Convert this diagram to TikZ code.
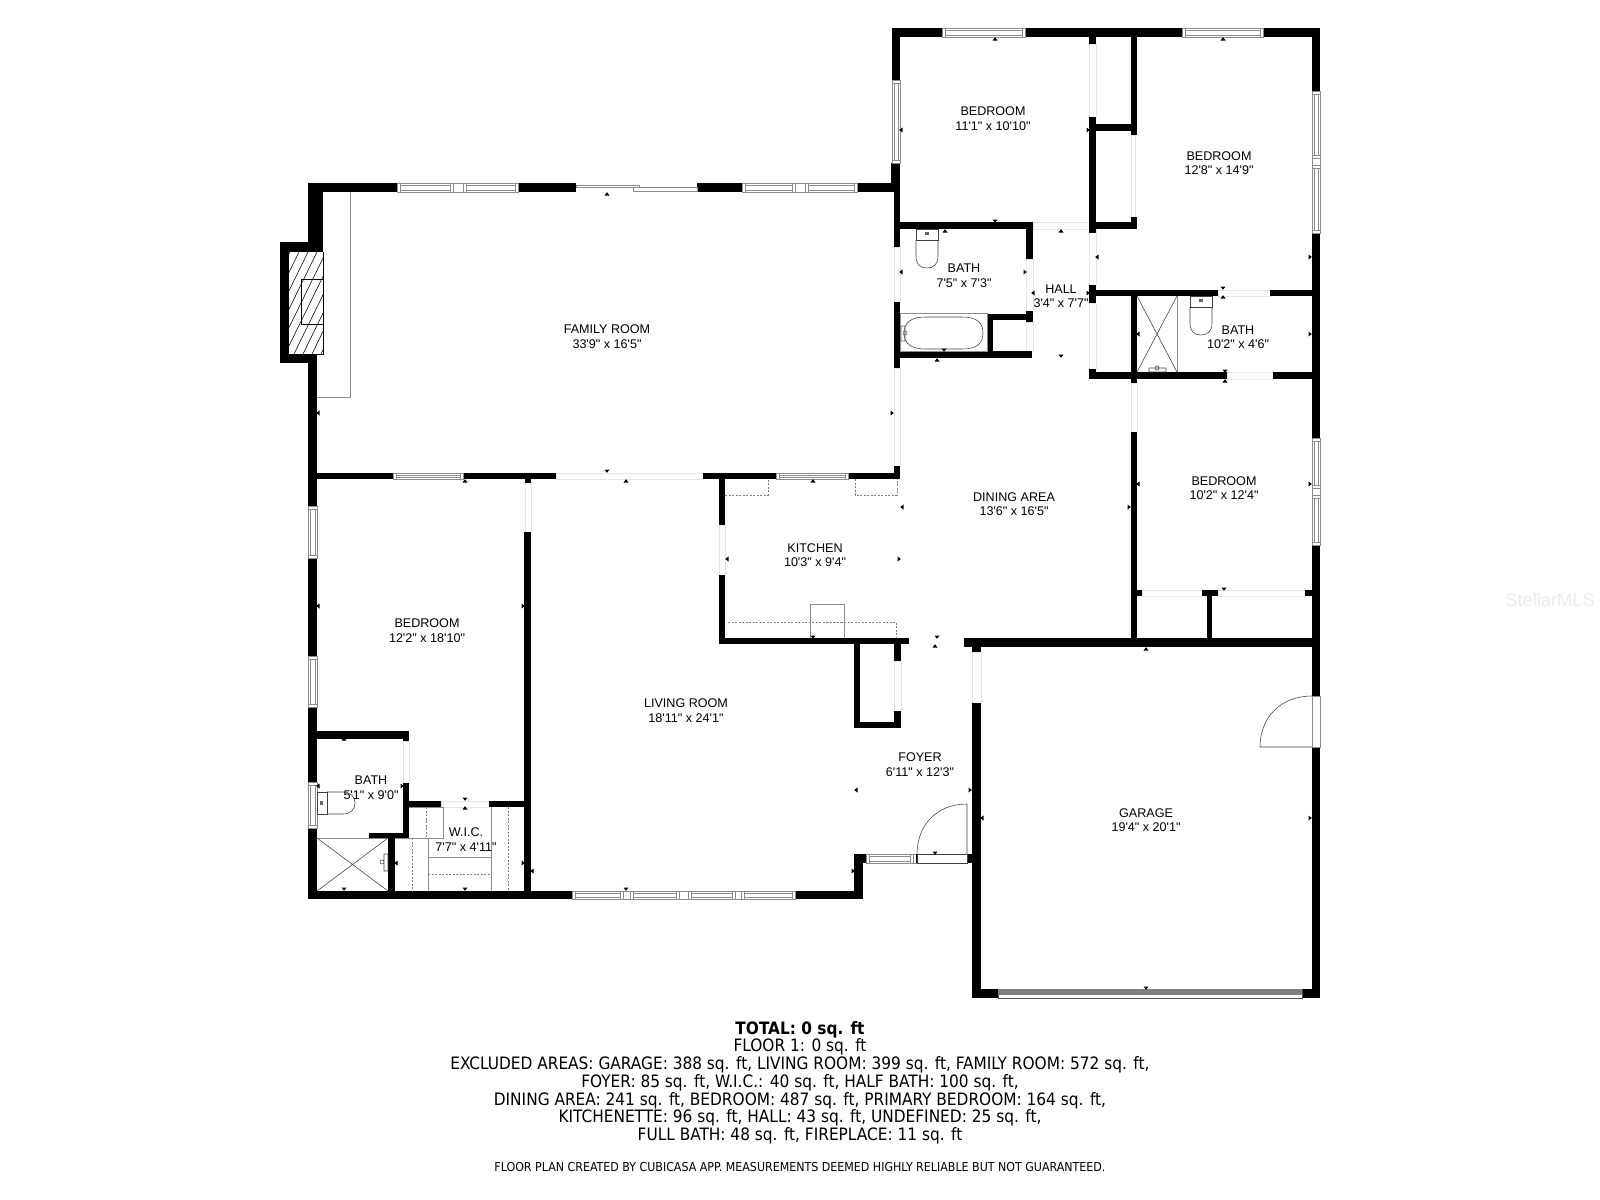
\documentclass[tikz,border=0pt]{standalone}
\usepackage{fontspec}
\usepackage{tikz}
\usetikzlibrary{positioning}
\newfontfamily\labelfont{Liberation Sans}
\newfontfamily\notefont{DejaVu Sans Condensed}
\tikzset{
wallfill/.style={fill=black},
gapbox/.style={draw=black!10,fill=white,line width=0.7pt}, % openings between rooms
winbox/.style={draw=black!45,fill=white,line width=0.9pt},
thinline/.style={draw=black!75,line width=0.8pt},
fixture/.style={draw=black!45,line width=1pt},
dashline/.style={draw=black!50,line width=0.8pt,densely dashed},
roomlabel/.style={align=center,font=\labelfont\fontsize{17.9}{20.6}\selectfont,inner sep=0pt},
noteline/.style={font=\notefont\fontsize{24.3}{27}\selectfont,inner sep=0pt},
}
\newcommand{\hwin}[4]{
  \draw[winbox] (#1,#3) rectangle (#2,#4);
  \draw[black!45,line width=0.7pt] (#1+3,#3) -- (#1+3,#4) (#2-3,#3) -- (#2-3,#4)
    (#1+3,#3+0.3*#4-0.3*#3) -- (#2-3,#3+0.3*#4-0.3*#3)
    (#1+3,#3+0.75*#4-0.75*#3) -- (#2-3,#3+0.75*#4-0.75*#3);
}
\newcommand{\vwin}[4]{
  \draw[winbox] (#1,#3) rectangle (#2,#4);
  \draw[black!45,line width=0.7pt] (#1,#3+3) -- (#2,#3+3) (#1,#4-3) -- (#2,#4-3)
    (#1+0.3*#2-0.3*#1,#3+3) -- (#1+0.3*#2-0.3*#1,#4-3)
    (#1+0.75*#2-0.75*#1,#3+3) -- (#1+0.75*#2-0.75*#1,#4-3);
}
\begin{document}
\begin{tikzpicture}[x=0.05cm,y=-0.05cm,on grid,node distance=0.885cm]
   \useasboundingbox (0,0) rectangle (1600,1200);
   \fill[white] (0,0) rectangle (1600,1200);

   % openings
   \foreach \xa/\ya/\xb/\yb in {1089/44/1096/117,1131/135/1135/217,1033/222/1089/229,1089/229/1096/285,
      1089/303/1096/369,1026/259/1033/311,1026/322/1033/351,894/247/900/302,894/368/900/466,
      1218/290/1270/296,1227/372/1273/379,1131/383/1137/432,1142/590/1202/596,1218/590/1305/596,
      556/473/703/479,525/483/531/532,719/525/725/575,894/661/901/711,972/652/981/703,
      403/741/409/783,441/801/489/807}
      \draw[gapbox] (\xa,\ya) rectangle (\xb,\yb);

   % walls
   \foreach \xa/\ya/\xb/\yb in {892/28/942/37,1025/28/1182/37,1263/28/1320/37,892/28/900/80,891/163/900/192,
      894/192/900/247,894/302/900/368,308/183/397/192,519/183/576/192,697/183/742/192,857/183/900/192,
      900/222/1033/229,1026/222/1033/259,1026/311/1033/322,987/314/1033/320,987/314/993/356,894/351/1032/358,
      1089/37/1096/44,1089/117/1096/233,1096/124/1131/131,1096/222/1137/229,1131/37/1137/135,1131/217/1137/229,
      1312/28/1320/91,1312/233/1320/438,1312/545/1320/696,1312/747/1320/998,
      1089/290/1218/296,1089/285/1096/303,1270/290/1312/296,1131/296/1137/383,1089/372/1227/379,1089/369/1096/379,
      1273/372/1312/379,1131/432/1137/638,1137/590/1142/596,1202/590/1218/596,1207/596/1212/638,1305/590/1312/596,
      964/638/1320/647,972/647/981/652,972/703/981/998,972/989/998/998,1302/989/1320/998,
      703/473/776/479,848/473/900/479,894/466/900/479,719/479/725/525,719/575/725/644,719/638/909/644,
      854/644/860/728,854/722/901/728,894/644/901/661,894/711/901/728,
      308/183/323/252,280/242/323/252,280/242/289/363,280/354/317/363,308/354/317/506,308/558/317/656,
      308/707/317/782,308/828/317/899,317/473/393/479,463/473/556/479,525/479/531/483,524/532/531/899,
      317/731/409/739,403/731/409/741,403/783/409/838,409/801/441/807,489/801/531/807,369/833/409/838,
      388/838/395/891,308/891/572/899,795/891/863/899,854/854/863/899,854/854/866/863,967/854/981/863}
      \fill[wallfill] (\xa,\ya) rectangle (\xb,\yb);

   % window frames, then the panes
   \foreach \xa/\ya/\xb/\yb in {397/183/518/192,742/183/857/192,572/891/795/899,1312/91/1320/233,1312/438/1320/545,866/854/917/863}
      \draw[winbox] (\xa,\ya) rectangle (\xb,\yb);
   \foreach \xa/\xb/\ya/\yb in {942/1025/28/37,1182/1263/28/37,397/453/183/192,463/518/183/192,742/795/183/192,
      805/857/183/192,393/463/473/479,776/848/473/479,572/623/891/899,630/679/891/899,688/735/891/899,
      741/795/891/899,866/913/854/863}
      {\hwin{\xa}{\xb}{\ya}{\yb}}
   \foreach \xa/\xb/\ya/\yb in {892/900/80/163,1312/1320/91/158,1312/1320/165/233,1312/1320/438/488,
      1312/1320/495/545,308/317/506/558,308/317/656/707,308/317/782/828}
      {\vwin{\xa}{\xb}{\ya}{\yb}}

   % sliding door and garage door
   \draw[winbox] (576,185) rectangle (639,187);
   \draw[winbox] (633,187) rectangle (697,191);
   \draw[winbox] (1312,696) rectangle (1320,747);
   \draw[black!70,fill=white,line width=0.8pt] (998,989) rectangle (1302,998);
   \fill[black!50] (998,989) rectangle (1302,995);

   % doors
   \draw[thinline] (1312,696) .. controls (1280,696) and (1260,718) .. (1260,747) -- (1312,747);
   \draw[thinline,fill=white] (917,854) rectangle (967,863);
   \draw[thinline] (917,854) .. controls (917,826) and (936,804) .. (967,804) -- (967,854);
   \draw[black,line width=1.4pt] (916,854) -- (916,863);

   % fireplace
   \begin{scope}
      \clip (289,252) rectangle (323,354);
      \foreach \i in {0,9,...,135}
         \draw[black,line width=0.8pt] (\i+240,354) -- (\i+290,252);
   \end{scope}
   \draw[black,line width=0.9pt] (289,354) -- (323,354) -- (323,252);
   \draw[black,line width=1.2pt] (323,279) -- (301,279) -- (301,324) -- (323,324);
   \draw[fixture] (350,192) -- (350,397) -- (317,397);

   % upper bath
   \draw[fixture] (900,313) rectangle (987,351);
   \draw[thinline] (904,333) .. controls (904,322) and (912,317) .. (925,317) -- (962,317)
      .. controls (976,317) and (983,322) .. (983,333) .. controls (983,344) and (976,349) .. (962,349)
      -- (925,349) .. controls (912,349) and (904,344) .. (904,333) -- cycle;
   \draw[black!60,line width=0.8pt] (901,326) rectangle (905,341) (905,333) circle (2);
   \draw[thinline] (916,229) rectangle (938,240);
   \draw[thinline] (916,240) -- (916,256) .. controls (916,264) and (920,268) .. (927,268)
      .. controls (934,268) and (938,264) .. (938,256) -- (938,240);
   \fill[black!60] (925,232) rectangle (929,235);

   % shower and bath on the east side
   \draw[fixture] (1177,296) -- (1177,372);
   \draw[thinline] (1137,296) -- (1177,372) (1177,296) -- (1137,372);
   \draw[black!70,line width=0.8pt] (1149,368) rectangle (1166,372) (1157,368) circle (2);
   \draw[thinline] (1190,296) rectangle (1212,307);
   \draw[thinline] (1190,307) -- (1190,323) .. controls (1190,331) and (1194,335) .. (1201,335)
      .. controls (1208,335) and (1212,331) .. (1212,323) -- (1212,307);
   \fill[black!60] (1199,299) rectangle (1203,302);

   % west bath and shower
   \draw[fixture] (317,838) -- (388,838);
   \draw[thinline] (317,838) -- (388,891) (388,838) -- (317,891);
   \draw[black!70,line width=0.8pt] (384,854) rectangle (388,871) (382,862) circle (2);
   \draw[thinline] (317,792) rectangle (327,814);
   \draw[thinline] (327,792) -- (343,792) .. controls (351,792) and (355,797) .. (355,803)
      .. controls (355,809) and (351,814) .. (343,814) -- (327,814);
   \fill[black!60] (320,801) rectangle (323,805);

   % closet shelves
   \draw[fixture] (409,807) -- (443,807) -- (443,838) -- (395,838) (428,838) -- (428,891)
      (428,857) -- (491,857) (491,807) -- (491,891);
   \draw[dashline] (426,807) -- (426,838) (412,838) -- (412,891) (428,874) -- (491,874) (508,807) -- (508,891);

   % kitchen counters
   \draw[dashline] (725,495) -- (768,495) -- (768,479) (855,479) -- (855,495) -- (897,495) -- (897,479)
      (728,622) -- (896,622) -- (896,638);
   \draw[fixture] (810,638) -- (810,604) -- (844,604) -- (844,638);

   % small marks on the walls
   \foreach \x/\y/\a in {995/39/90,1223/39/90,945/231/90,1061/231/90,937/360/90,1223/297/90,1225/381/90,607/194/90,
      626/481/90,813/481/90,465/481/90,935/646/90,1146/649/90,344/739/90,465/808/90,
      995/221/270,944/350/270,1061/356/270,1223/288/270,1225/371/270,607/471/270,813/637/270,937/637/270,
      1224/589/270,935/853/270,1146/988/270,465/799/270,344/889/270,465/889/270,626/889/270,
      901/130/180,1097/257/180,901/272/180,1033/293/180,1138/334/180,318/413/180,902/507/180,
      727/559/180,1138/484/180,982/818/180,856/790/180,318/606/180,318/786/180,396/863/180,532/871/180,
      1088/130/0,1310/257/0,1025/272/0,1088/293/0,1310/334/0,892/413/0,899/559/0,1310/484/0,1129/507/0,
      1310/818/0,970/790/0,853/871/0,523/606/0,402/786/0,523/863/0}
      \fill[black,shift={(\x,\y)},rotate=\a] (1.8,0) -- (-1.5,2.5) -- (-1.5,-2.5) -- cycle;

   % rooms
   \node[roomlabel] (bed_n) at (993,118.5) {BEDROOM\\11'1" x 10'10"};
   \node[roomlabel] (bed_ne) at (1219,163) {BEDROOM\\12'8" x 14'9"};
   \node[roomlabel] (bath_n) at (964,275.5) {BATH\\7'5" x 7'3"};
   \node[roomlabel] (hall) at (1061,296) {HALL\\3'4" x 7'7"};
   \node[roomlabel] (bath_e) at (1238,337) {BATH\\10'2" x 4'6"};
   \node[roomlabel] (family) at (607,336.5) {FAMILY ROOM\\33'9" x 16'5"};
   \node[roomlabel] (kitchen) at (815,555) {KITCHEN\\10'3" x 9'4"};
   \node[roomlabel] (dining) at (1014,504) {DINING AREA\\13'6" x 16'5"};
   \node[roomlabel] (bed_e) at (1224,488) {BEDROOM\\10'2" x 12'4"};
   \node[roomlabel] (bed_w) at (427,630.5) {BEDROOM\\12'2" x 18'10"};
   \node[roomlabel] (living) at (686,710.5) {LIVING ROOM\\18'11" x 24'1"};
   \node[roomlabel] (foyer) at (920,764.5) {FOYER\\6'11" x 12'3"};
   \node[roomlabel] (garage) at (1146,820) {GARAGE\\19'4" x 20'1"};
   \node[roomlabel] (bath_w) at (371,787.5) {BATH\\5'1" x 9'0"};
   \node[roomlabel] (wic) at (466,839.5) {W.I.C.\\7'7" x 4'11"};

   % watermark
   \node[font=\labelfont\fontsize{26}{28}\selectfont,text=black!8,inner sep=0pt] (mark) at (1550,600) {StellarMLS};

   % areas
   \node[noteline,font=\notefont\bfseries\fontsize{24.3}{27}\selectfont] (total) at (800,1029.5) {TOTAL: 0 sq. ft};
   \node[noteline] (floor) [below=of total] {FLOOR 1: 0 sq. ft};
   \node[noteline] (excl) [below=of floor] {EXCLUDED AREAS: GARAGE: 388 sq. ft, LIVING ROOM: 399 sq. ft, FAMILY ROOM: 572 sq. ft,};
   \node[noteline] (foy) [below=of excl] {FOYER: 85 sq. ft, W.I.C.: 40 sq. ft, HALF BATH: 100 sq. ft,};
   \node[noteline] (din) [below=of foy] {DINING AREA: 241 sq. ft, BEDROOM: 487 sq. ft, PRIMARY BEDROOM: 164 sq. ft,};
   \node[noteline] (kit) [below=of din] {KITCHENETTE: 96 sq. ft, HALL: 43 sq. ft, UNDEFINED: 25 sq. ft,};
   \node[noteline] (full) [below=of kit] {FULL BATH: 48 sq. ft, FIREPLACE: 11 sq. ft};
   \node[noteline,font=\notefont\fontsize{17.5}{20}\selectfont] (credit) at (800,1167.5) {FLOOR PLAN CREATED BY CUBICASA APP. MEASUREMENTS DEEMED HIGHLY RELIABLE BUT NOT GUARANTEED.};
\end{tikzpicture}
\end{document}
